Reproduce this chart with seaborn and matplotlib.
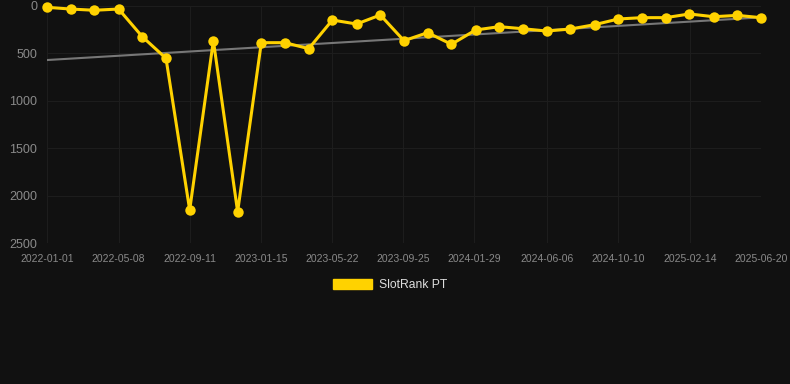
import numpy as np
import pandas as pd
import matplotlib
matplotlib.use("Agg")
import matplotlib.pyplot as plt
import matplotlib.patches as mpatches
import seaborn as sns

# data
dates = ["2022-01-01", "2022-02-12", "2022-03-26", "2022-05-08", "2022-06-19",
         "2022-07-31", "2022-09-11", "2022-10-23", "2022-12-05", "2023-01-16",
         "2023-02-27", "2023-04-10", "2023-05-22", "2023-07-04", "2023-08-15",
         "2023-09-26", "2023-11-07", "2023-12-19", "2024-01-31", "2024-03-13",
         "2024-04-24", "2024-06-05", "2024-07-17", "2024-08-29", "2024-10-10",
         "2024-11-21", "2025-01-02", "2025-02-13", "2025-03-28", "2025-05-09",
         "2025-06-20"]
rank = [14, 32, 45, 32, 324, 552, 2152, 366, 2170, 387,
        387, 450, 148, 190, 95, 366, 281, 404, 253, 218,
        240, 264, 243, 197, 137, 123, 123, 84, 113, 99,
        123]
trend_dates = ["2022-01-01", "2025-06-20"]
trend_vals = [570, 120]
tick_labels = ["2022-01-01", "2022-05-08", "2022-09-11", "2023-01-15", "2023-05-22",
               "2023-09-25", "2024-01-29", "2024-06-06", "2024-10-10", "2025-02-14",
               "2025-06-20"]
series_name = "SlotRank PT"

bg = "#111111"
gold = "#FFD200"
grid = "#1d1d1d"

sns.set_style("dark", {"axes.facecolor": bg, "figure.facecolor": bg,
                       "grid.color": grid, "axes.edgecolor": bg})
plt.rcParams["font.family"] = ["Liberation Sans", "DejaVu Sans"]

df = pd.DataFrame({"date": pd.to_datetime(dates), "rank": rank})
trend = pd.DataFrame({"date": pd.to_datetime(trend_dates), "rank": trend_vals})

fig = plt.figure(figsize=(7.9, 3.84), dpi=100)
ax = fig.add_axes([47 / 790, 1 - 243 / 384, 714 / 790, 237 / 384])

sns.lineplot(data=trend, x="date", y="rank", ax=ax, color="#777777", linewidth=1.5)
sns.lineplot(data=df, x="date", y="rank", ax=ax, color=gold, linewidth=2.2,
             marker="o", markersize=7.5, markeredgewidth=0, markeredgecolor=gold)
for ln in ax.lines[1:]:
    ln.set_solid_joinstyle("miter")
    ln.set_clip_on(False)

ax.set_ylim(2500, 0)
ax.set_yticks([0, 500, 1000, 1500, 2000, 2500])
ax.set_xlim(pd.Timestamp(dates[0]), pd.Timestamp(dates[-1]))
ax.set_xticks(pd.to_datetime(tick_labels))
ax.set_xticklabels(tick_labels)
ax.grid(True, color=grid, linewidth=0.8)
ax.tick_params(axis="y", length=0, pad=7, labelsize=9, labelcolor="#8a8a8a")
ax.tick_params(axis="x", length=0, pad=8, labelsize=7.5, labelcolor="#8a8a8a")
ax.set_xlabel("")
ax.set_ylabel("")
for s in ax.spines.values():
    s.set_visible(False)

handle = mpatches.Patch(color=gold, label=series_name)
fig.legend(handles=[handle], loc="center", bbox_to_anchor=(0.494, 1 - 285 / 384),
           frameon=False, fontsize=8.7, labelcolor="#dddddd",
           handlelength=3.2, handleheight=0.9, handletextpad=0.6)

fig.savefig("out.png", dpi=100, facecolor=bg)
